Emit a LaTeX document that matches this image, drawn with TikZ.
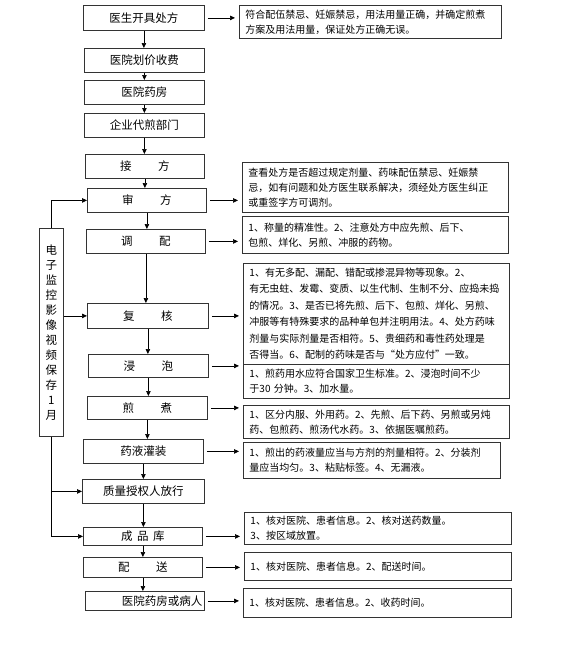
\documentclass[tikz,border=0pt]{standalone}
\usepackage{fontspec}
\newfontfamily\cjk{Noto Sans CJK SC}
\usetikzlibrary{arrows.meta}

\tikzset{
    schritt/.style={draw=black!80, line width=0.8pt, inner sep=0pt, anchor=north west, font=\cjk\fontsize{11.5}{13}\selectfont},
    hinweis/.style={draw=black!80, line width=0.9pt, inner xsep=6pt, inner ysep=0pt, anchor=north west, align=left, font=\cjk\fontsize{10}{15}\selectfont},
    pfeil/.style={-{Triangle[length=5pt,width=4.5pt]}, line width=0.7pt},
    seite/.style={pfeil, shorten <=3pt, shorten >=4pt}
}

\begin{document}
\begin{tikzpicture}[x=1pt, y=-1pt]
    \useasboundingbox (0,0) rectangle (582,662);
    \path node[schritt, minimum width=121pt, minimum height=25pt] (KF) at (83,5) {医生开具处方}
        node[schritt, minimum width=120pt, minimum height=24pt] (SF) at (84,48) {医院划价收费}
        node[schritt, minimum width=120pt, minimum height=24pt] (YF) at (84,80) {医院药房}
        node[schritt, minimum width=120pt, minimum height=24pt] (DJ) at (84,113) {企业代煎部门}
        node[schritt, minimum width=119pt, minimum height=24pt] (JF) at (85,154) {接\hspace{2.3em}方}
        node[schritt, minimum width=119pt, minimum height=24pt] (SH) at (87,188) {审\hspace{2.3em}方}
        node[schritt, minimum width=119pt, minimum height=24pt] (TP) at (86,229) {调\hspace{2.3em}配}
        node[schritt, minimum width=121pt, minimum height=25pt] (FH) at (87,303) {复\hspace{2.3em}核}
        node[schritt, minimum width=120pt, minimum height=23pt] (JP) at (88,354) {浸\hspace{2.3em}泡}
        node[schritt, minimum width=120pt, minimum height=23pt] (JZ) at (87,396) {煎\hspace{2.3em}煮}
        node[schritt, minimum width=120pt, minimum height=24pt] (GZ) at (83,439) {药液灌装}
        node[schritt, minimum width=122pt, minimum height=24pt] (FX) at (82,479) {质量授权人放行}
        node[schritt, minimum width=119pt, minimum height=18pt] (CP) at (83,527) {\raisebox{-2pt}{成\hspace{0.4em}品\hspace{0.4em}库}}
        node[schritt, minimum width=119pt, minimum height=20pt] (PS) at (83,557) {配\hspace{2.3em}送}
        node[schritt, text width=115pt, inner xsep=2pt, align=right, minimum height=19pt] (BR) at (85,591) {\raisebox{-2pt}{医院药房或病人}}
        node[schritt, minimum width=24pt, minimum height=208pt, align=center, font=\cjk\fontsize{11.5}{15}\selectfont] (JK) at (39,228)
            {电\\子\\监\\控\\影\\像\\视\\频\\保\\存\\1\\月};
    \path node[hinweis, text width=250pt, minimum height=33pt] (KFt) at (239,5)
            {符合配伍禁忌、妊娠禁忌，用法用量正确，并确定煎煮\\方案及用法用量，保证处方正确无误。}
        node[hinweis, text width=254pt, minimum height=50pt] (SHt) at (242,162)
            {查看处方是否超过规定剂量、药味配伍禁忌、妊娠禁\\忌，如有问题和处方医生联系解决，须经处方医生纠正\\或重签字方可调剂。}
        node[hinweis, text width=254pt, minimum height=37pt] (TPt) at (242,216)
            {1、称量的精准性。2、注意处方中应先煎、后下、\\包煎、烊化、另煎、冲服的药物。}
        node[hinweis, text width=254pt, minimum height=101pt, font=\cjk\fontsize{10}{16.5}\selectfont] (FHt) at (243,263)
            {1、有无多配、漏配、错配或掺混异物等现象。2、\\有无虫蛀、发霉、变质、以生代制、生制不分、应捣未捣\\的情况。3、是否已将先煎、后下、包煎、烊化、另煎、\\冲服等有特殊要求的品种单包并注明用法。4、处方药味\\剂量与实际剂量是否相符。5、贵细药和毒性药处理是\\否得当。6、配制的药味是否与“处方应付”一致。}
        node[hinweis, text width=254pt, minimum height=34pt] (JPt) at (243,364)
            {1、煎药用水应符合国家卫生标准。2、浸泡时间不少\\于30 分钟。3、加水量。}
        node[hinweis, text width=254pt, minimum height=33pt] (JZt) at (243,405)
            {1、区分内服、外用药。2、先煎、后下药、另煎或另炖\\药、包煎药、煎汤代水药。3、依据医嘱煎药。}
        node[hinweis, text width=245pt, minimum height=36pt] (GZt) at (243,442)
            {1、煎出的药液量应当与方剂的剂量相符。2、分装剂\\量应当均匀。3、粘贴标签。4、无漏液。}
        node[hinweis, text width=255pt, minimum height=32pt] (CPt) at (244,512)
            {1、核对医院、患者信息。2、核对送药数量。\\3、按区域放置。}
        node[hinweis, text width=255pt, minimum height=28pt] (PSt) at (244,552)
            {1、核对医院、患者信息。2、配送时间。}
        node[hinweis, text width=256pt, minimum height=29pt] (BRt) at (243,588)
            {1、核对医院、患者信息。2、收药时间。};
    \draw[pfeil] (KF) -- (KF |- SF.north);
    \draw[pfeil] (SF) -- (SF |- YF.north);
    \draw[pfeil] (YF) -- (YF |- DJ.north);
    \draw[pfeil] (DJ) -- (DJ |- JF.north);
    \draw[pfeil] (JF) -- (JF |- SH.north);
    \draw[pfeil] (SH) -- (SH |- TP.north);
    \draw[pfeil] (TP) -- (TP |- FH.north);
    \draw[pfeil] (FH) -- (FH |- JP.north);
    \draw[pfeil] (JP) -- (JP |- JZ.north);
    \draw[pfeil] (JZ) -- (JZ |- GZ.north);
    \draw[pfeil] (GZ) -- (GZ |- FX.north);
    \draw[pfeil] (FX) -- (FX |- CP.north);
    \draw[pfeil] (CP) -- (CP |- PS.north);
    \draw[pfeil] (PS) -- (PS |- BR.north);
    \draw[seite] (KF.east) -- (KF.east -| KFt.west);
    \draw[seite] (SH.east) -- (SH.east -| SHt.west);
    \draw[seite] (TP.east) -- (TP.east -| TPt.west);
    \draw[seite] (FH.east) -- (FH.east -| FHt.west);
    \draw[seite] (JP.east) -- (JP.east -| JPt.west);
    \draw[seite] (JZ.east) -- (JZ.east -| JZt.west);
    \draw[seite] (GZ.east) -- (GZ.east -| GZt.west);
    \draw[seite] (CP.east) -- (CP.east -| CPt.west);
    \draw[seite] (PS.east) -- (PS.east -| PSt.west);
    \draw[seite] (BR.east) -- (BR.east -| BRt.west);
    \draw[pfeil] (JK.north) |- (SH.west);
    \draw[pfeil] (JK.east |- FH.west) -- (FH.west);
    \draw[pfeil] (JK.south) |- (CP.west);
    \draw[pfeil] (JK.south |- FX.west) -- (FX.west);
\end{tikzpicture}
\end{document}
